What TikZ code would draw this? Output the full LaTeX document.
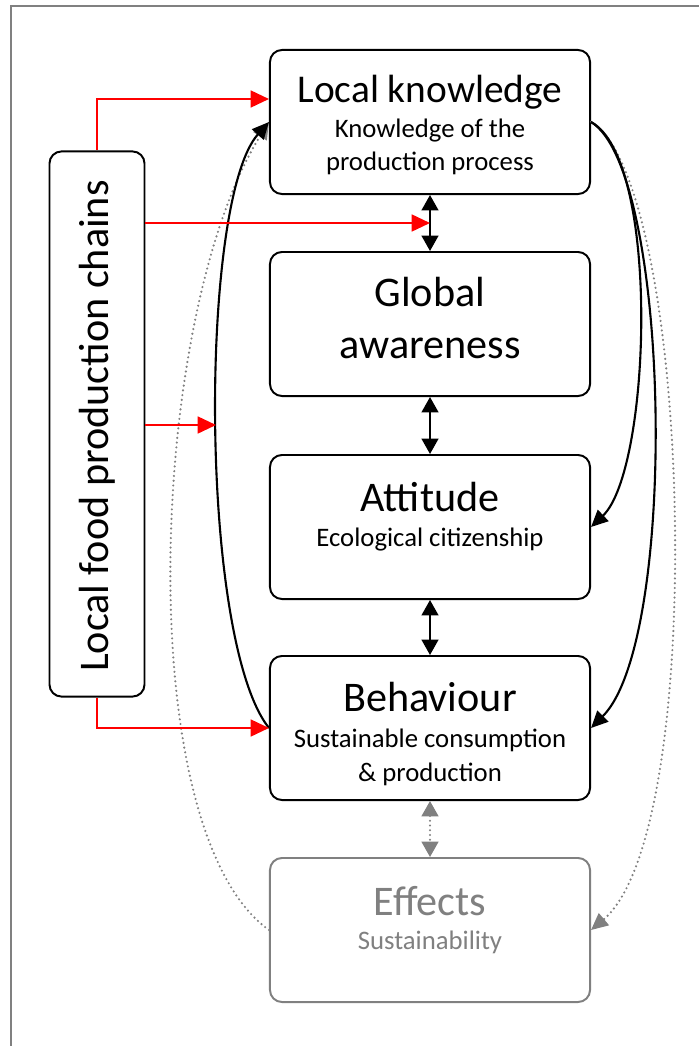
\documentclass[tikz,border=0pt]{standalone}
\usepackage{fontspec}
\setmainfont{Carlito}
\usetikzlibrary{positioning,calc,arrows.meta}

\tikzset{
  stage/.style={draw, line width=1.4pt, fill=white, rounded corners=0.3cm,
    minimum width=8cm, minimum height=3.6cm},
  ttl/.style={font=\fontsize{30}{36}\selectfont, align=center, inner sep=0pt},
  sub/.style={font=\fontsize{19}{23.5}\selectfont, align=center, inner sep=0pt},
  redlink/.style={red, line width=1.4pt, -{Triangle[length=13pt,width=12pt]}},
  twoway/.style={line width=1.4pt, {Triangle[length=11pt,width=12pt]}-{Triangle[length=11pt,width=12pt]}},
  greyway/.style={gray, line width=1.6pt, line cap=round, dash pattern=on 0pt off 3.4pt,
    {Triangle[length=11pt,width=12pt]}-{Triangle[length=11pt,width=12pt]}},
  feedback/.style={line width=1.5pt, -{Triangle[length=12pt,width=11pt]}},
  dotback/.style={gray, line width=1.7pt, line cap=round, dash pattern=on 0pt off 3.4pt,
    -{Triangle[length=12pt,width=11pt]}}
}

\begin{document}
\begin{tikzpicture}[x=0.025cm, y=-0.025cm]
    \useasboundingbox (0,0) rectangle (699,1046);

    % Frame
    \draw[gray, line width=1.4pt] (11,1046) -- (11,6) -- (699,6);

    % Stages
    \node[stage] (lk) at (430,122) {};
    \node[stage] (ga) at (430,324) {};
    \node[stage] (at) at (430,527) {};
    \node[stage] (bh) at (430,728) {};
    \node[stage, draw=gray] (ef) at (430,930) {};

    % Local food production chains
    \node[draw, line width=1.4pt, fill=white, rounded corners=0.3cm,
      minimum width=2.375cm, minimum height=13.625cm] (lf) at (97,424) {};
    \node[ttl, rotate=90] (lfT) at ($(lf)+(0,2)$) {Local food production chains};

    % Stage texts (base = last line)
    \node[ttl, anchor=base, font=\fontsize{28}{34}\selectfont] (lkT) at ($(lk.north)+(0,54)$) {Local knowledge};
    \node[sub, anchor=base] (lkS) at ($(lk.north)+(0,122)$) {Knowledge of the\\production process};
    \node[ttl, anchor=base, font=\fontsize{30}{36.5}\selectfont] (gaT) at ($(ga.north)+(0,107)$) {Global\\awareness};
    \node[ttl, anchor=base] (atT) at ($(at.north)+(0,57)$) {Attitude};
    \node[sub, anchor=base] (atS) at ($(at.north)+(0,92)$) {Ecological citizenship};
    \node[ttl, anchor=base] (bhT) at ($(bh.north)+(0,56)$) {Behaviour};
    \node[sub, anchor=base] (bhS) at ($(bh.north)+(0,126)$) {Sustainable consumption\\\& production};
    \node[ttl, anchor=base, gray] (efT) at ($(ef.north)+(0,58)$) {Effects};
    \node[sub, anchor=base, gray] (efS) at ($(ef.north)+(0,92)$) {Sustainability};

    % Two-way links
    \draw[twoway] (lk.south) -- (ga.north);
    \draw[twoway] (ga.south) -- (at.north);
    \draw[twoway] (at.south) -- (bh.north);
    \draw[greyway] (bh.south) -- (ef.north);

    % Feedback loops
    \draw[dotback] (ef.west) .. controls +(-140,-100) and +(-120,191) .. (lk.west);
    \draw[dotback] (lk.east) .. controls +(100,58) and +(119,-100) .. (ef.east);
    \draw[feedback] (bh.west) .. controls +(-70,-88) and +(-70,78) .. (lk.west);
    \draw[feedback] (lk.east) .. controls +(70,38) and +(60,-57) .. (at.east);
    \draw[feedback] (lk.east) .. controls +(80,48) and +(88,-88) .. (bh.east);

    % Red links
    \coordinate (lkga) at ($(lk.south)!0.5!(ga.north)$);
    \coordinate (loopin) at (216,425);
    \draw[redlink] (lf.north) |- ($(lk.west)+(0,-23)$);
    \draw[redlink] (lf.east |- lkga) -- (lkga);
    \draw[redlink] (lf.east |- loopin) -- (loopin);
    \draw[redlink] (lf.south) |- (bh.west);
\end{tikzpicture}
\end{document}
